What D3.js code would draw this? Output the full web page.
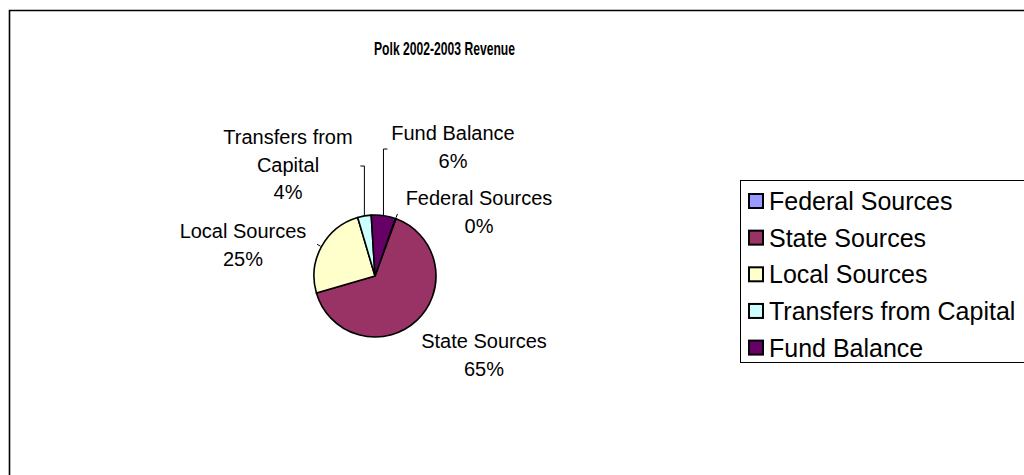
<!DOCTYPE html>
<html>
<head>
<meta charset="utf-8">
<script src="https://cdn.jsdelivr.net/npm/d3@7/dist/d3.min.js"></script>
<style>
  html, body { margin: 0; padding: 0; background: #fff; }
  svg { display: block; font-family: Arial, "Liberation Sans", sans-serif; }
</style>
</head>
<body>
<svg id="chart" width="1024" height="475"></svg>
<script>
// Revenue sources for Polk, fiscal year 2002-2003 (percent of total)
const categories = ["Federal Sources", "State Sources", "Local Sources", "Transfers from Capital", "Fund Balance"];
const shares = [0.2, 64.9, 24.9, 3.6, 6.4];
const colors = ["#9999FF", "#993366", "#FFFFCC", "#CCFFFF", "#660066"];
// Pie label text lines (percent line is appended from the data)
const labelLines = [["Federal Sources"], ["State Sources"], ["Local Sources"], ["Transfers from", "Capital"], ["Fund Balance"]];
const title = "Polk 2002-2003 Revenue";

// Layout
const W = 1024, H = 475;
const cx = 375, cy = 276, R = 61;
const firstSliceAngle = 19.5 * Math.PI / 180;
const labelFont = 20, lineH = 27.5;
// label anchor (center of first text line) relative to pie centre, and leader-line shape
const labelPos = [
  { dx: 104, dy: -78, leader: "tick" },
  { dx: 109, dy: 65, leader: "none" },
  { dx: -132, dy: -45, leader: "tick" },
  { dx: -87, dy: -139, leader: "up-left", elbowY: -110, tickX: -16 },
  { dx: 78, dy: -143, leader: "up-right", elbowY: -127, tickX: 13 }
];

const svg = d3.select("#chart");

// chart frame (continues past the right and bottom edges)
svg.append("path")
  .attr("d", `M9.5,${H + 5} L9.5,10.5 L${W + 5},10.5`)
  .attr("fill", "none").attr("stroke", "#000").attr("stroke-width", 1.6);

// condensed bold title
svg.append("text")
  .attr("x", 374).attr("y", 55)
  .attr("font-weight", "bold").attr("font-size", 19)
  .attr("textLength", 141).attr("lengthAdjust", "spacingAndGlyphs")
  .text(title);

const total = d3.sum(shares);
const pie = d3.pie().sort(null).value(d => d)
  .startAngle(firstSliceAngle).endAngle(firstSliceAngle + 2 * Math.PI);
const arcs = pie(shares);
const arc = d3.arc().innerRadius(0).outerRadius(R);

const g = svg.append("g").attr("transform", `translate(${cx},${cy})`);
g.selectAll("path.slice").data(arcs).join("path")
  .attr("class", "slice")
  .attr("d", arc)
  .attr("fill", (d, i) => colors[i])
  .attr("stroke", "#000").attr("stroke-width", 1.6)
  .attr("stroke-linejoin", "round");

// leader lines
arcs.forEach((d, i) => {
  const a = (d.startAngle + d.endAngle) / 2;
  const ex = R * Math.sin(a), ey = -R * Math.cos(a);
  const p = labelPos[i];
  let pts;
  if (p.leader === "none") return;
  if (p.leader === "tick") {
    pts = [[ex + 1 * Math.sin(a), ey - 1 * Math.cos(a)], [ex + 5 * Math.sin(a), ey - 5 * Math.cos(a)]];
  } else {
    pts = [[ex, ey], [ex, p.elbowY], [ex + (p.tickX > 0 ? 4 : -4), p.elbowY]];
  }
  g.append("path")
    .attr("d", d3.line()(pts))
    .attr("fill", "none").attr("stroke", "#000").attr("stroke-width", 1);
});

// labels
arcs.forEach((d, i) => {
  const p = labelPos[i];
  const pct = Math.round(d.data / total * 100) + "%";
  const lines = labelLines[i].concat([pct]);
  const t = g.append("text")
    .attr("text-anchor", "middle")
    .attr("font-size", labelFont)
    .attr("fill", "#000");
  lines.forEach((ln, k) => {
    t.append("tspan")
      .attr("x", p.dx)
      .attr("y", p.dy + k * lineH)
      .attr("dy", "0.36em")
      .text(ln);
  });
});

// legend
const lg = svg.append("g");
lg.append("rect")
  .attr("x", 740.5).attr("y", 180.5)
  .attr("width", 400).attr("height", 182)
  .attr("fill", "#fff").attr("stroke", "#000").attr("stroke-width", 1);
const legendY = d3.scalePoint().domain(categories).range([201, 347.6]);
categories.forEach((c, i) => {
  const y = legendY(c);
  lg.append("rect")
    .attr("x", 749).attr("y", y - 7)
    .attr("width", 14).attr("height", 14)
    .attr("fill", colors[i]).attr("stroke", "#000").attr("stroke-width", 2);
  lg.append("text")
    .attr("x", 769).attr("y", y).attr("dy", "0.36em")
    .attr("font-size", 25)
    .text(c);
});
</script>
</body>
</html>
